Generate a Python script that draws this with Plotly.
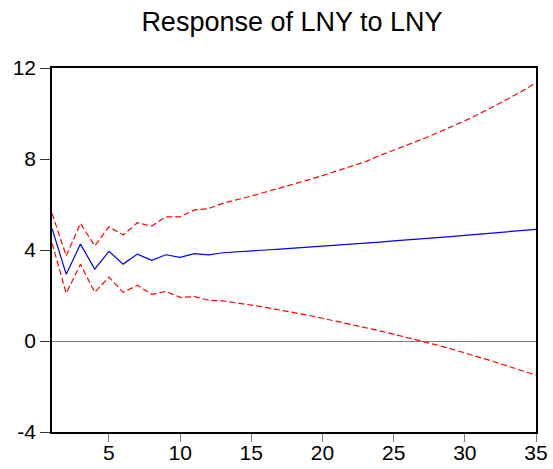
import plotly.graph_objects as go

periods = list(range(1, 36))

response = [4.95, 2.93, 4.26, 3.16, 3.94, 3.38, 3.82, 3.55, 3.79, 3.68,
            3.84, 3.79, 3.88, 3.91, 3.96, 4.00, 4.04, 4.08, 4.12, 4.16,
            4.20, 4.25, 4.30, 4.35, 4.40, 4.44, 4.49, 4.54, 4.59, 4.64,
            4.69, 4.74, 4.80, 4.85, 4.91]

upper = [5.61, 3.74, 5.17, 4.18, 5.02, 4.66, 5.20, 5.05, 5.46, 5.46,
         5.76, 5.82, 6.05, 6.20, 6.37, 6.55, 6.72, 6.90, 7.08, 7.27,
         7.47, 7.67, 7.88, 8.15, 8.38, 8.62, 8.87, 9.13, 9.40, 9.68,
         9.98, 10.30, 10.63, 10.98, 11.35]

lower = [4.30, 2.10, 3.37, 2.14, 2.81, 2.14, 2.45, 2.05, 2.18, 1.92,
         1.95, 1.79, 1.76, 1.68, 1.58, 1.48, 1.37, 1.25, 1.13, 1.00,
         0.87, 0.73, 0.59, 0.45, 0.30, 0.15, 0.00, -0.17, -0.34, -0.52,
         -0.71, -0.90, -1.10, -1.30, -1.50]

x_ticks = [5, 10, 15, 20, 25, 30, 35]
y_ticks = [-4, 0, 4, 8, 12]
y_tick_labels = ["-4", "0", "4", "8", "12"]

FONT = "Liberation Sans, Arial, sans-serif"

fig = go.Figure()
fig.add_trace(go.Scatter(x=periods, y=upper, mode="lines",
                         line=dict(color="#FF0000", width=1.2, dash="6px,3px")))
fig.add_trace(go.Scatter(x=periods, y=lower, mode="lines",
                         line=dict(color="#FF0000", width=1.2, dash="6px,3px")))
fig.add_trace(go.Scatter(x=periods, y=response, mode="lines",
                         line=dict(color="#0000FF", width=1.2)))

fig.update_layout(
    width=553, height=469,
    margin=dict(l=52, r=17, t=68, b=37),
    paper_bgcolor="white", plot_bgcolor="white",
    showlegend=False,
    font=dict(family=FONT, size=21, color="black"),
    title=dict(text="Response of LNY to LNY", x=0.528, xanchor="center",
               y=0.953, yanchor="middle",
               font=dict(family=FONT, size=27, color="black")),
)
fig.update_xaxes(range=[1, 35], tickvals=x_ticks, ticks="outside", ticklen=8,
                 tickcolor="#808080", showgrid=False, zeroline=False,
                 showline=True, linecolor="black", linewidth=1.5, mirror=True,
                 tickfont=dict(size=21), automargin=False,
                 ticklabelstandoff=-7)
fig.update_yaxes(range=[-4, 12], tickvals=y_ticks, ticktext=y_tick_labels,
                 ticks="outside", ticklen=10,
                 tickcolor="#333333", showgrid=False, zeroline=True,
                 zerolinecolor="#808080", zerolinewidth=1,
                 showline=True, linecolor="black", linewidth=1.5, mirror=True,
                 tickfont=dict(size=21), automargin=False)

fig.write_html("out.html")
